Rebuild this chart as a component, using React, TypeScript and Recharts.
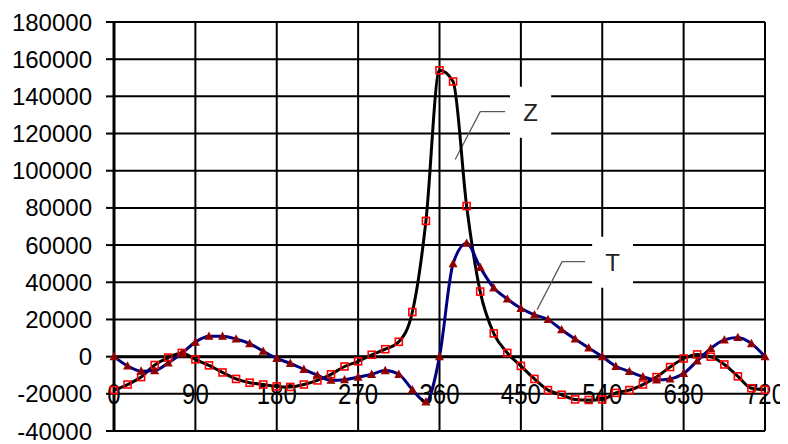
import React from 'react';
import {
  LineChart, Line, XAxis, YAxis, CartesianGrid, ReferenceLine, ReferenceArea, ReferenceDot, Label,
} from 'recharts';

const angles = [
  0, 15, 30, 45, 60, 75, 90, 105, 120, 135, 150, 165, 180, 195, 210, 225, 240, 255, 270, 285,
  300, 315, 330, 345, 360, 375, 390, 405, 420, 435, 450, 465, 480, 495, 510, 525, 540, 555, 570,
  585, 600, 615, 630, 645, 660, 675, 690, 705, 720,
];

const zValues = [
  -18000, -15000, -11000, -4500, -500, 2000, -1500, -4700, -8500, -12000, -14000, -15000, -16000,
  -16300, -15000, -12800, -9500, -5300, -2500, 1000, 4000, 8000, 24000, 73000, 154000, 148000,
  81000, 35000, 12500, 2000, -5000, -12000, -18000, -20500, -23000, -23300, -23000, -19500, -18000,
  -15000, -11000, -5600, -1000, 1200, 0, -4200, -10600, -17000, -17800,
];

const tValues = [
  0, -5000, -7800, -7500, -3400, 1800, 7800, 11000, 11000, 9500, 7000, 2900, -1000, -3600, -6800,
  -10000, -12700, -12400, -11000, -9500, -7500, -9500, -17800, -24300, 0, 50000, 61000, 48000,
  37000, 31000, 26000, 22500, 20000, 14500, 9500, 4700, 0, -5200, -8000, -10800, -12500, -12000,
  -9000, -2300, 4400, 9000, 10300, 7000, 0,
];

const xTicks = [0, 90, 180, 270, 360, 450, 540, 630, 720];
const yTicks = [-40000, -20000, 0, 20000, 40000, 60000, 80000, 100000, 120000, 140000, 160000, 180000];
const xLabelLevel = -20000;

// Callout labels (data coordinates)
const zLabel = { text: 'Z', box: [438, 483.5, 117800, 145200], leader: [[432.6, 131800], [405, 131800], [377.4, 106000]] };
const tLabel = { text: 'T', box: [528.8, 574, 37100, 64500], leader: [[521, 51100], [495.6, 51100], [468, 25300]] };

const data = angles.map((a, i) => ({ angle: a, Z: zValues[i], T: tValues[i] }));

const FONT = '"Liberation Sans", Arial, sans-serif';

const SquareDot = (props: any) => {
  const { cx, cy, index } = props;
  if (cx == null || cy == null) return null;
  return (
    <rect key={`sq-${index}`} x={cx - 3.5} y={cy - 3.5} width={7} height={7} fill="none" stroke="#ff0000" strokeWidth={1.6} />
  );
};

const TriDot = (props: any) => {
  const { cx, cy, index } = props;
  if (cx == null || cy == null) return null;
  return (
    <path
      key={`tr-${index}`}
      d={`M${cx},${cy - 3.5} L${cx + 3.5},${cy + 3} L${cx - 3.5},${cy + 3} Z`}
      fill="#800000"
      stroke="#a00000"
      strokeWidth={1.2}
    />
  );
};

const EmptyTick = () => <g />;

const makeXLabel = (value: number) => (props: any) => {
  const vb = props.viewBox || {};
  const cx = (vb.x || 0) + (vb.width || 0) / 2;
  const cy = (vb.y || 0) + (vb.height || 0) / 2;
  return (
    <g transform={`translate(${cx},${cy}) scale(1,1.2)`}>
      <text x={0} y={0} textAnchor="middle" dominantBaseline="central" fontSize={24} fontFamily={FONT} fill="#000">
        {value}
      </text>
    </g>
  );
};

const renderCallout = (c: any) => {
  const [x1, x2, y1, y2] = c.box;
  const [p0, p1, p2] = c.leader;
  return [
    <ReferenceArea key={`a-${c.text}`} x1={x1} x2={x2} y1={y1} y2={y2} fill="#ffffff" fillOpacity={1} stroke="none" ifOverflow="visible">
      <Label value={c.text} position="center" fontSize={24} fontFamily={FONT} fill="#222" />
    </ReferenceArea>,
    <ReferenceLine key={`l1-${c.text}`} segment={[{ x: p0[0], y: p0[1] }, { x: p1[0], y: p1[1] }]} stroke="#555" strokeWidth={1.2} ifOverflow="visible" />,
    <ReferenceLine key={`l2-${c.text}`} segment={[{ x: p1[0], y: p1[1] }, { x: p2[0], y: p2[1] }]} stroke="#555" strokeWidth={1.2} ifOverflow="visible" />,
  ];
};

export default function App() {
  return (
    <div style={{ width: 780, height: 436, background: '#fff' }}>
      <LineChart width={780} height={436} data={data} margin={{ top: 14, right: 23, bottom: 12, left: 0 }}>
        <CartesianGrid stroke="#000" strokeWidth={2} />
        <XAxis
          dataKey="angle"
          type="number"
          domain={[0, 720]}
          ticks={xTicks}
          height={1}
          axisLine={false}
          tickLine={false}
          tick={EmptyTick}
          interval={0}
        />
        <YAxis
          type="number"
          domain={[-40000, 180000]}
          ticks={yTicks}
          width={106}
          axisLine={{ stroke: '#000', strokeWidth: 3 }}
          tickLine={{ stroke: '#000', strokeWidth: 2 }}
          tickSize={8}
          tickMargin={14}
          interval={0}
          tick={{ fontSize: 24, fill: '#000', fontFamily: FONT }}
        />
        {xTicks.map((v) => (
          <ReferenceDot
            key={`xl-${v}`}
            x={v}
            y={xLabelLevel}
            r={0}
            fill="none"
            stroke="none"
            ifOverflow="visible"
            label={{ content: makeXLabel(v) }}
          />
        ))}
        <ReferenceLine y={0} stroke="#000" strokeWidth={3} />
        {renderCallout(zLabel)}
        {renderCallout(tLabel)}
        <Line
          type="monotone"
          dataKey="Z"
          stroke="#000"
          strokeWidth={3}
          dot={<SquareDot />}
          activeDot={false}
          isAnimationActive={false}
        />
        <Line
          type="monotone"
          dataKey="T"
          stroke="#000080"
          strokeWidth={3}
          dot={<TriDot />}
          activeDot={false}
          isAnimationActive={false}
        />
      </LineChart>
    </div>
  );
}
